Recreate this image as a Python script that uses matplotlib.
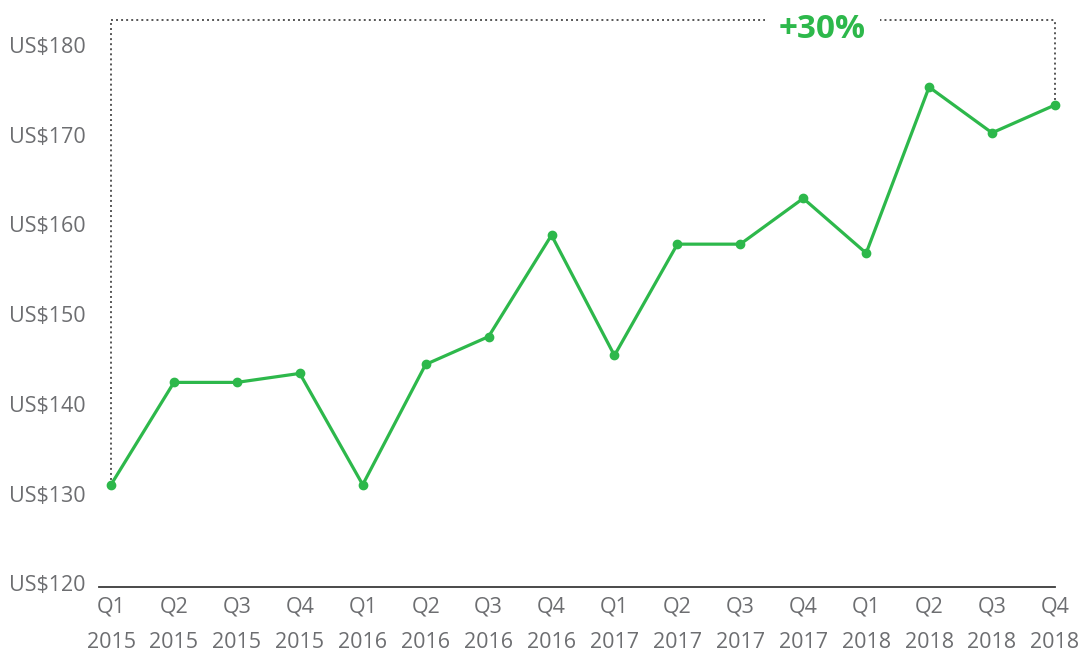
import matplotlib
matplotlib.use("Agg")
import matplotlib.pyplot as plt

quarters = ["Q1", "Q2", "Q3", "Q4"] * 4
years = ["2015"] * 4 + ["2016"] * 4 + ["2017"] * 4 + ["2018"] * 4
values = [131.0, 142.4, 142.4, 143.4, 131.0, 144.4, 147.5, 158.8,
          145.4, 157.8, 157.8, 162.9, 156.8, 175.3, 170.2, 173.3]
yticks = [120, 130, 140, 150, 160, 170, 180]
ytick_labels = ["US$" + str(v) for v in yticks]
growth_label = "+30%"
bracket_level = 182.8

GREEN = "#2db84b"
GRAY = "#6d6e71"

W, H = 1082, 656
fig = plt.figure(figsize=(W / 100, H / 100), dpi=100)
left, right, top, bottom = 99, 1066, 0, 586.6
ax = fig.add_axes([left / W, (H - bottom) / H, (right - left) / W, (bottom - top) / H])

x = list(range(len(values)))
ax.set_xlim(-(111 - 99) / 62.93, (1066 - 111) / 62.93)
ax.set_ylim(119.65, 185.0)

ax.plot(x, values, color=GREEN, lw=2.3, marker="o", markersize=6,
        solid_joinstyle="miter", zorder=3)

dot_kw = dict(color="#555555", lw=1.4, linestyle=(0, (1, 1.6)), zorder=2)
ax.plot([x[0], x[0]], [values[0], bracket_level], **dot_kw)
ax.plot([x[-1], x[-1]], [values[-1], bracket_level], **dot_kw)
ax.plot([x[0], x[-1]], [bracket_level, bracket_level], **dot_kw)
ax.text(11.3, 181.7, growth_label, color=GREEN, fontsize=24,
        fontweight="bold", fontstretch="condensed",
        family=["DejaVu Sans Condensed", "Open Sans", "DejaVu Sans"],
        ha="center", va="center", zorder=4,
        bbox=dict(facecolor="white", edgecolor="none", pad=10))

for s in ["top", "right", "left"]:
    ax.spines[s].set_visible(False)
ax.spines["bottom"].set_color("#3a3a3a")
ax.spines["bottom"].set_linewidth(1.3)
ax.spines["bottom"].set_bounds(-(111 - 99) / 62.93, x[-1])

ax.set_yticks(yticks)
ax.set_yticklabels(ytick_labels, family="Open Sans", fontsize=15.5, color=GRAY)
ax.tick_params(axis="y", length=0, pad=9.5)
for lab in ax.get_yticklabels():
    lab.set_verticalalignment("center_baseline")

ax.set_xticks(x)
ax.set_xticklabels([q + "\n" + y for q, y in zip(quarters, years)],
                   family="Open Sans", fontsize=15.5, color=GRAY, linespacing=1.9)
ax.tick_params(axis="x", length=0, pad=7)

fig.savefig("out.png", dpi=100)
